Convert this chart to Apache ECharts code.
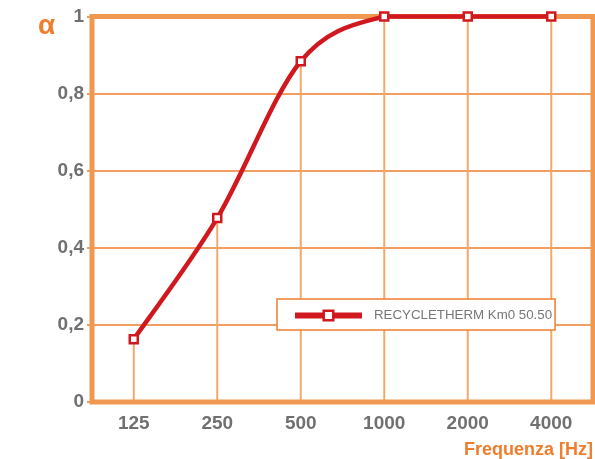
<!DOCTYPE html>
<html>
<head>
<meta charset="utf-8">
<script src="https://cdn.jsdelivr.net/npm/echarts@6/dist/echarts.min.js"></script>
<style>html,body{margin:0;padding:0;background:#fff;}#c{width:595px;height:459px;}</style>
</head>
<body>
<div id="c"></div>
<script>
const categories = ['125', '250', '500', '1000', '2000', '4000'];
const alphaValues = [0.163, 0.477, 0.884, 1.0, 1.0, 1.0];
const seriesName = 'RECYCLETHERM Km0 50.50';
const yTicks = [0, 0.2, 0.4, 0.6, 0.8, 1];

const chart = echarts.init(document.getElementById('c'), null, {renderer: 'canvas'});
const FONT = '"Liberation Sans", Arial, sans-serif';
const RED = '#d0181e';
const ORANGE = '#ef7e2c';
const FRAME = '#f0984f';

// Smooth (Catmull-Rom style) segment between point i and i+1, positions from the axes
function renderSegment(params, api) {
  const i = params.dataIndex;
  const n = alphaValues.length;
  if (i >= n - 1) return null;
  const P = k => api.coord([Math.max(0, Math.min(n - 1, k)), alphaValues[Math.max(0, Math.min(n - 1, k))]]);
  const p0 = P(i - 1), p1 = P(i), p2 = P(i + 1), p3 = P(i + 2);
  const t = 1 / 6;
  let c1 = [p1[0] + (p2[0] - p0[0]) * t, p1[1] + (p2[1] - p0[1]) * t];
  let c2 = [p2[0] - (p3[0] - p1[0]) * t, p2[1] - (p3[1] - p1[1]) * t];
  const lo = Math.min(p1[1], p2[1]), hi = Math.max(p1[1], p2[1]);
  c1[1] = Math.max(lo, Math.min(hi, c1[1]));
  c2[1] = Math.max(lo, Math.min(hi, c2[1]));
  return {
    type: 'path',
    shape: {pathData: `M${p1[0]} ${p1[1]}C${c1[0]} ${c1[1]} ${c2[0]} ${c2[1]} ${p2[0]} ${p2[1]}`},
    style: {fill: 'none', stroke: RED, lineWidth: 4.5, lineCap: 'round', lineJoin: 'round'}
  };
}

chart.setOption({
  animation: false,
  backgroundColor: '#fff',
  grid: {
    left: 92, right: 2, top: 16.5, bottom: 57,
    show: true, borderColor: FRAME, borderWidth: 5, backgroundColor: 'transparent', z: 5
  },
  xAxis: {
    type: 'category',
    data: categories,
    boundaryGap: true,
    axisLine: {show: false},
    axisTick: {show: false},
    splitLine: {show: false},
    axisLabel: {
      color: '#707070', fontFamily: FONT, fontWeight: 'bold', fontSize: 19, margin: 12
    }
  },
  yAxis: {
    type: 'value',
    min: 0, max: 1, interval: 0.2,
    axisLine: {show: false},
    axisTick: {show: true, length: 5, lineStyle: {color: ORANGE, width: 1.5}},
    splitLine: {show: true, lineStyle: {color: ORANGE, width: 1.5}},
    axisLabel: {
      color: '#707070', fontFamily: FONT, fontWeight: 'bold', fontSize: 19, margin: 8,
      formatter: v => {
        const t = yTicks.find(x => Math.abs(x - v) < 1e-9);
        return String(Math.round((t !== undefined ? t : v) * 10) / 10).replace('.', ',');
      }
    }
  },
  legend: {
    data: [seriesName],
    left: 277, top: 299,
    orient: 'horizontal',
    backgroundColor: '#fff',
    borderColor: ORANGE,
    borderWidth: 1.5,
    borderRadius: 0,
    padding: [10, 3, 8, 15],
    itemWidth: 67,
    itemHeight: 12,
    lineStyle: {width: 6, color: RED, opacity: 1},
    itemStyle: {color: '#fff', borderColor: RED, borderWidth: 2.5, opacity: 1},
    textStyle: {color: '#777', fontFamily: FONT, fontSize: 13.3, padding: [0, 0, 0, 7]},
    selectedMode: false
  },
  series: [
    {
      name: 'drop',
      type: 'bar',
      data: alphaValues,
      barWidth: 2,
      itemStyle: {color: '#f4a869'},
      z: 1,
      silent: true
    },
    {
      name: 'curve',
      type: 'custom',
      data: alphaValues,
      renderItem: renderSegment,
      z: 9,
      silent: true
    },
    {
      name: seriesName,
      type: 'line',
      data: alphaValues,
      symbol: 'rect',
      symbolSize: 8,
      lineStyle: {color: RED, width: 4.5, opacity: 0},
      itemStyle: {color: '#fff', borderColor: RED, borderWidth: 2.5},
      z: 10
    }
  ],
  graphic: [
    {
      type: 'text', left: 38, top: 12,
      style: {text: 'α', fill: ORANGE, font: 'bold 28px ' + FONT}
    },
    {
      type: 'text', x: 464, y: 450,
      style: {text: 'Frequenza [Hz]', fill: ORANGE, font: 'bold 18px ' + FONT, textVerticalAlign: 'middle'}
    }
  ]
});
</script>
</body>
</html>
